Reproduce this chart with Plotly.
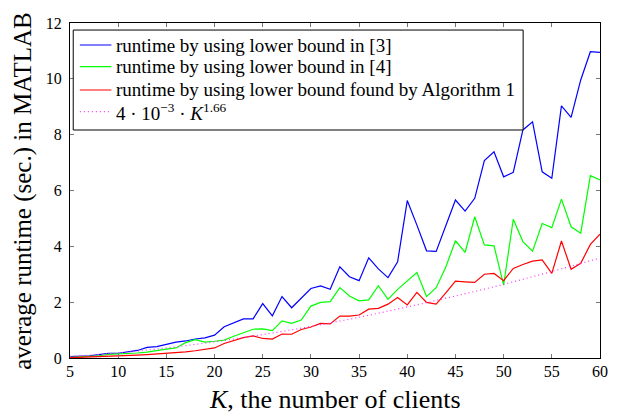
import plotly.graph_objects as go

K = list(range(5, 61))

runtime_ref3 = [0.05, 0.06, 0.08, 0.12, 0.17, 0.17, 0.21, 0.27, 0.38, 0.41,
                0.49, 0.57, 0.61, 0.68, 0.72, 0.82, 1.12, 1.26, 1.40, 1.40,
                1.95, 1.51, 2.20, 1.80, 2.14, 2.49, 2.58, 2.46, 3.27, 2.91,
                2.77, 3.59, 3.19, 2.88, 3.45, 5.64, 4.76, 3.84, 3.82, 4.72,
                5.66, 5.26, 5.72, 7.07, 7.39, 6.49, 6.65, 8.17, 8.46, 6.67,
                6.44, 9.03, 8.62, 9.96, 10.97, 10.95]

runtime_ref4 = [0.02, 0.04, 0.06, 0.08, 0.13, 0.14, 0.15, 0.18, 0.21, 0.27,
                0.32, 0.36, 0.55, 0.66, 0.57, 0.60, 0.64, 0.78, 0.90, 1.03,
                1.04, 0.98, 1.33, 1.24, 1.36, 1.86, 1.99, 2.02, 2.52, 2.22,
                2.05, 2.08, 2.59, 2.10, 2.46, 2.76, 3.06, 2.20, 2.52, 3.26,
                4.20, 3.78, 5.06, 4.05, 4.02, 2.61, 4.97, 4.17, 3.83, 4.82,
                4.67, 5.69, 4.70, 4.47, 6.53, 6.38]

runtime_alg1 = [0.01, 0.02, 0.03, 0.04, 0.05, 0.06, 0.08, 0.10, 0.12, 0.14,
                0.16, 0.19, 0.22, 0.26, 0.31, 0.36, 0.52, 0.63, 0.73, 0.79,
                0.70, 0.68, 0.86, 0.85, 1.02, 1.11, 1.24, 1.22, 1.50, 1.50,
                1.54, 1.75, 1.78, 1.93, 2.17, 1.90, 2.35, 1.99, 1.93, 2.33,
                2.75, 2.73, 2.71, 3.00, 3.03, 2.77, 3.21, 3.35, 3.47, 3.51,
                3.03, 4.19, 3.18, 3.39, 4.07, 4.44]

K_fit = [5, 10, 15, 20, 25, 30, 35, 40, 45, 50, 55, 60]
fit_vals = [0.06, 0.18, 0.36, 0.58, 0.84, 1.13, 1.46, 1.83, 2.22, 2.64, 3.10, 3.58]

x_ticks = [5, 10, 15, 20, 25, 30, 35, 40, 45, 50, 55, 60]
y_ticks = [0, 2, 4, 6, 8, 10, 12]

series_names = ["runtime by using lower bound in [3]",
                "runtime by using lower bound in [4]",
                "runtime by using lower bound found by Algorithm 1",
                "4 · 10<sup>−3</sup> · <i>K</i><sup>1.66</sup>"]
series_colors = ["#0000ff", "#00ff00", "#ff0000", "#ff33ff"]
series_dash = ["solid", "solid", "solid", "1px,3px"]

FONT = "Liberation Serif, Times New Roman, serif"

fig = go.Figure()
fig.add_trace(go.Scatter(x=K, y=runtime_ref3, mode="lines",
                         line=dict(color=series_colors[0], width=1.2),
                         name=series_names[0]))
fig.add_trace(go.Scatter(x=K, y=runtime_ref4, mode="lines",
                         line=dict(color=series_colors[1], width=1.2),
                         name=series_names[1]))
fig.add_trace(go.Scatter(x=K, y=runtime_alg1, mode="lines",
                         line=dict(color=series_colors[2], width=1.2),
                         name=series_names[2]))
fig.add_trace(go.Scatter(x=K_fit, y=fit_vals, mode="lines",
                         line=dict(color=series_colors[3], width=1.2,
                                   dash=series_dash[3], shape="spline"),
                         name=series_names[3]))

axis_common = dict(showline=True, linecolor="black", linewidth=1, mirror="allticks",
                   ticks="inside", ticklen=4, tickcolor="#777", tickwidth=1,
                   showgrid=False, zeroline=False,
                   tickfont=dict(family=FONT, size=16, color="black"))

fig.update_xaxes(range=[5, 60], tickvals=x_ticks, ticklabelstandoff=-1, **axis_common)
fig.update_yaxes(range=[0, 12], tickvals=y_ticks, ticklabelstandoff=4, **axis_common)

# axis titles
fig.add_annotation(text="<i>K</i>, the number of clients", xref="paper", yref="paper",
                   x=0.5, y=-0.125, xanchor="center", yanchor="middle", showarrow=False,
                   font=dict(family=FONT, size=26, color="black"))
fig.add_annotation(text="average runtime (sec.) in MATLAB", xref="paper", yref="paper",
                   x=-0.090, y=0.5, xanchor="center", yanchor="middle", showarrow=False,
                   textangle=-90, font=dict(family=FONT, size=25, color="black"))

# legend box (drawn in paper coordinates, like pgfplots' boxed legend)
leg_x0, leg_x1, leg_y0, leg_y1 = 0.0061, 0.855, 0.6806, 0.979
fig.add_shape(type="rect", xref="paper", yref="paper",
              x0=leg_x0, x1=leg_x1, y0=leg_y0, y1=leg_y1,
              fillcolor="white", line=dict(color="black", width=1), layer="above")
row_y = [0.9343, 0.8696, 0.800, 0.7352]
for name, color, dash, ry in zip(series_names, series_colors, series_dash, row_y):
    fig.add_shape(type="line", xref="paper", yref="paper",
                  x0=0.0186, x1=0.0781, y0=ry, y1=ry,
                  line=dict(color=color, width=1.2, dash=dash), layer="above")
    fig.add_annotation(text=name, xref="paper", yref="paper",
                       x=0.0836, y=ry, xanchor="left", yanchor="middle", showarrow=False,
                       font=dict(family=FONT, size=19, color="black"))

fig.update_layout(
    width=618, height=414,
    margin=dict(l=70, r=10, t=23, b=56),
    plot_bgcolor="white", paper_bgcolor="white",
    font=dict(family=FONT, color="black"),
    showlegend=False,
)

fig.write_html("out.html", config={"displayModeBar": False},
               post_script="document.body.style.margin='0';document.body.style.overflow='hidden';")
